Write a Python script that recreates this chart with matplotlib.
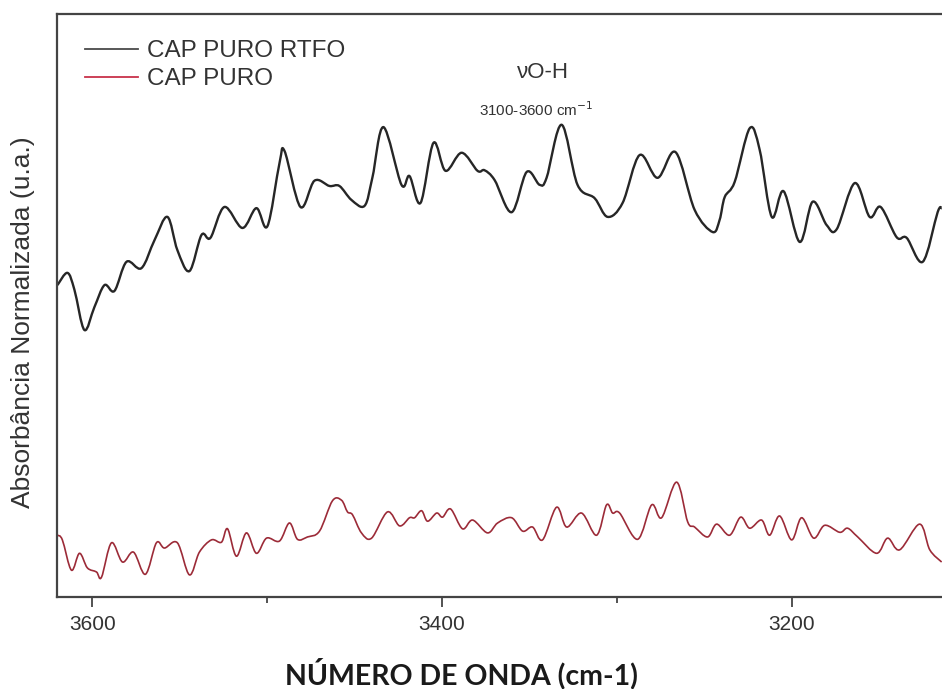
import matplotlib.pyplot as plt
from matplotlib.path import Path
from matplotlib.patches import PathPatch
from matplotlib.lines import Line2D

# FTIR O-H stretching region, normalised absorbance
wn_rtfo = [3620.0, 3614.3, 3610.3, 3604.6, 3598.9, 3593.1, 3587.4, 3580.5, 3572.0, 3564.5,
           3557.1, 3551.4, 3544.5, 3537.6, 3532.5, 3524.5, 3514.2, 3506.2, 3499.9, 3493.0,
           3490.1, 3481.0, 3473.0, 3464.4, 3458.7, 3451.8, 3444.3, 3439.8, 3433.5, 3423.2,
           3418.6, 3412.3, 3404.9, 3398.0, 3388.8, 3379.7, 3375.7, 3369.9, 3360.2, 3351.6,
           3344.2, 3340.2, 3331.6, 3322.5, 3312.7, 3305.3, 3296.7, 3287.0, 3276.7, 3266.4,
           3255.5, 3245.2, 3241.2, 3238.3, 3232.6, 3224.0, 3218.3, 3211.4, 3204.6, 3195.4,
           3188.0, 3180.0, 3174.2, 3163.9, 3155.4, 3149.1, 3139.9, 3134.2, 3125.0, 3116.5,
           3114.2]
abs_rtfo = [0.535, 0.556, 0.527, 0.458, 0.497, 0.535, 0.525, 0.575, 0.564, 0.612,
            0.652, 0.595, 0.559, 0.621, 0.616, 0.669, 0.633, 0.667, 0.636, 0.744,
            0.765, 0.669, 0.714, 0.705, 0.705, 0.681, 0.671, 0.720, 0.806, 0.707,
            0.722, 0.676, 0.779, 0.731, 0.762, 0.731, 0.732, 0.715, 0.660, 0.729,
            0.707, 0.719, 0.810, 0.707, 0.684, 0.652, 0.676, 0.758, 0.719, 0.763,
            0.664, 0.626, 0.647, 0.686, 0.712, 0.804, 0.767, 0.652, 0.696, 0.609,
            0.678, 0.638, 0.631, 0.710, 0.652, 0.669, 0.617, 0.616, 0.575, 0.660,
            0.667]

wn_puro = [3620.0, 3617.2, 3612.0, 3607.4, 3602.9, 3597.7, 3594.8, 3589.1, 3582.8, 3576.5,
           3569.7, 3563.4, 3558.8, 3551.4, 3544.5, 3538.8, 3531.9, 3526.2, 3522.7, 3517.6,
           3511.9, 3506.2, 3500.4, 3493.0, 3487.3, 3482.7, 3477.0, 3470.1, 3462.7, 3457.5,
           3454.1, 3451.2, 3446.1, 3440.3, 3431.2, 3424.3, 3418.6, 3415.7, 3411.7, 3408.3,
           3403.1, 3399.7, 3395.1, 3388.3, 3382.5, 3374.0, 3368.2, 3360.2, 3353.9, 3348.2,
           3342.5, 3334.5, 3328.7, 3320.2, 3311.6, 3305.9, 3302.4, 3298.4, 3288.1, 3280.1,
           3274.4, 3265.8, 3259.5, 3255.5, 3248.1, 3242.9, 3235.5, 3229.2, 3224.0, 3217.2,
           3212.6, 3206.9, 3200.0, 3194.3, 3187.4, 3181.1, 3172.5, 3168.0, 3162.2, 3151.4,
           3145.1, 3138.2, 3126.8, 3121.0, 3114.2]
abs_puro = [0.106, 0.098, 0.046, 0.075, 0.050, 0.043, 0.034, 0.093, 0.060, 0.077,
            0.039, 0.093, 0.084, 0.093, 0.038, 0.077, 0.098, 0.094, 0.117, 0.070,
            0.110, 0.075, 0.101, 0.096, 0.127, 0.099, 0.103, 0.113, 0.165, 0.166,
            0.146, 0.141, 0.110, 0.101, 0.146, 0.122, 0.136, 0.136, 0.148, 0.130,
            0.144, 0.137, 0.151, 0.117, 0.132, 0.110, 0.127, 0.136, 0.113, 0.120,
            0.098, 0.154, 0.120, 0.144, 0.106, 0.158, 0.144, 0.144, 0.099, 0.158,
            0.136, 0.197, 0.129, 0.120, 0.103, 0.125, 0.106, 0.137, 0.118, 0.132,
            0.106, 0.139, 0.098, 0.136, 0.101, 0.123, 0.111, 0.118, 0.103, 0.075,
            0.101, 0.081, 0.125, 0.081, 0.060]


def smooth_path(xs, ys):
    # Catmull-Rom style cubic Bezier through every measured point
    n = len(xs)
    verts = [(xs[0], ys[0])]
    codes = [Path.MOVETO]
    for i in range(n - 1):
        x0, y0 = xs[max(i - 1, 0)], ys[max(i - 1, 0)]
        x1, y1 = xs[i], ys[i]
        x2, y2 = xs[i + 1], ys[i + 1]
        x3, y3 = xs[min(i + 2, n - 1)], ys[min(i + 2, n - 1)]
        c1 = (x1 + (x2 - x0) / 6, y1 + (y2 - y0) / 6)
        c2 = (x2 - (x3 - x1) / 6, y2 - (y3 - y1) / 6)
        verts += [c1, c2, (x2, y2)]
        codes += [Path.CURVE4] * 3
    return Path(verts, codes)


plt.rcParams['font.family'] = ['Liberation Sans', 'DejaVu Sans']

fig = plt.figure(figsize=(9.42, 6.89), dpi=100)
ax = fig.add_axes([0.061, 0.1335, 0.939, 0.8462])

ax.add_patch(PathPatch(smooth_path(wn_rtfo, abs_rtfo), fill=False,
                       edgecolor='#262626', lw=1.7, joinstyle='round'))
ax.add_patch(PathPatch(smooth_path(wn_puro, abs_puro), fill=False,
                       edgecolor='#9c2b38', lw=1.2, joinstyle='round'))

ax.set_xlim(3620, 3114)
ax.set_ylim(0, 1)

for side in ['left', 'bottom', 'top']:
    ax.spines[side].set_color('#444444')
    ax.spines[side].set_linewidth(1.6)
ax.spines['right'].set_visible(False)

ax.set_xticks([3600, 3400, 3200])
ax.set_xticks([3500, 3300], minor=True)
ax.set_yticks([])
ax.tick_params(axis='x', which='major', direction='out', length=7, width=1.3,
               color='#444444', labelsize=15, labelcolor='#333333', pad=6)
ax.tick_params(axis='x', which='minor', direction='out', length=4, width=1.3,
               color='#444444')

handles = [Line2D([], [], color='#4a4a4a', lw=1.3),
           Line2D([], [], color='#c8324a', lw=1.3)]
leg = ax.legend(handles, ['CAP PURO RTFO', 'CAP PURO'], loc='upper left',
                bbox_to_anchor=(0.031, 0.955), frameon=False,
                fontsize=17.5, handlelength=2.2, handletextpad=0.35,
                labelspacing=0.25, borderpad=0, borderaxespad=0)
for txt in leg.get_texts():
    txt.set_color('#333333')

ax.text(3342, 0.899, 'νO-H', ha='center', va='center', fontsize=16, color='#333333')
ax.text(3346, 0.836, '3100-3600 cm$^{-1}$', ha='center', va='center', fontsize=11,
        color='#333333')

fig.text(23 / 942, 1 - 322 / 689, 'Absorbância Normalizada (u.a.)', rotation=90,
         ha='center', va='center', fontsize=19, color='#333333')
fig.text(461 / 942, 1 - 674 / 689, 'NÚMERO DE ONDA (cm-1)', ha='center', va='center',
         fontsize=20.5, fontweight='bold', family='Lato', color='#1a1a1a')

fig.savefig('out.png', dpi=100)
